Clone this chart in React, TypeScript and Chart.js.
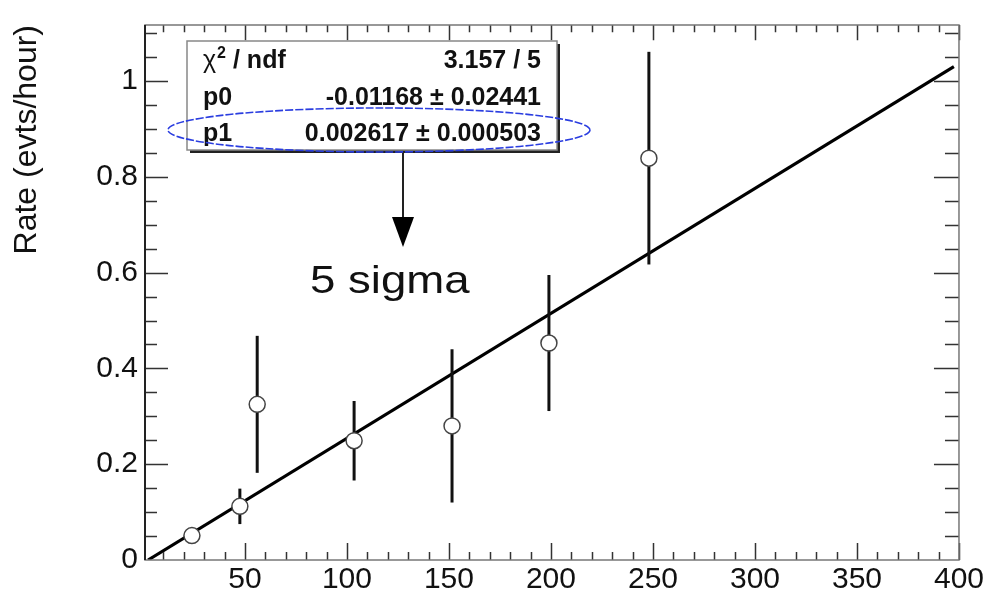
import React, { useEffect, useRef } from 'react';
import { Chart, registerables } from 'chart.js';

Chart.register(...registerables);

// ---- data ----
const pointX = [24, 47.5, 56, 103.5, 151.5, 199, 248];
const pointY = [0.051, 0.112, 0.325, 0.249, 0.28, 0.453, 0.839];
const pointErr = [0.012, 0.037, 0.143, 0.083, 0.16, 0.142, 0.222];
const fitX = [2.5, 397.5];
const fitY = [0, 1.03];
const xTickLabels = [50, 100, 150, 200, 250, 300, 350, 400];
const yTickLabels = [0, 0.2, 0.4, 0.6, 0.8, 1];
const statNames = ['p0', 'p1'];
const statValues = ['-0.01168 \u00b1 0.02441', '0.002617 \u00b1 0.000503'];
const chiValue = '3.157 / 5';
const yTitle = 'Rate (evts/hour)';
const annotationText = '5 sigma';

const FONT = '"Liberation Sans", Arial, Helvetica, sans-serif';

const errorBarPlugin = {
  id: 'errorBars',
  beforeDatasetDraw(chart: any, args: any) {
    if (args.index !== 0) return;
    const { ctx, scales, chartArea } = chart;
    const xs = scales.x;
    const ys = scales.y;
    ctx.save();
    ctx.beginPath();
    ctx.rect(chartArea.left, chartArea.top, chartArea.right - chartArea.left, chartArea.bottom - chartArea.top);
    ctx.clip();
    ctx.strokeStyle = '#111';
    ctx.lineWidth = 3;
    for (let i = 0; i < pointX.length; i++) {
      const px = xs.getPixelForValue(pointX[i]);
      ctx.beginPath();
      ctx.moveTo(px, ys.getPixelForValue(pointY[i] - pointErr[i]));
      ctx.lineTo(px, ys.getPixelForValue(pointY[i] + pointErr[i]));
      ctx.stroke();
    }
    ctx.restore();
  },
};

const framePlugin = {
  id: 'rootFrame',
  afterDatasetsDraw(chart: any) {
    const { ctx, scales, chartArea } = chart;
    const xs = scales.x;
    const ys = scales.y;
    const { left, right, top, bottom } = chartArea;
    ctx.save();
    ctx.strokeStyle = '#333';
    ctx.lineWidth = 1.5;
    const xTick = (v: number, len: number) => {
      const p = Math.round(xs.getPixelForValue(v)) + 0.5;
      ctx.beginPath();
      ctx.moveTo(p, bottom);
      ctx.lineTo(p, bottom - len);
      ctx.moveTo(p, top);
      ctx.lineTo(p, top + len * 0.9);
      ctx.stroke();
    };
    for (let i = 1; i <= 40; i++) {
      const v = i * 10;
      if (v < xs.min || v > xs.max) continue;
      xTick(v, v % 50 === 0 ? 17 : 8);
    }
    const yTick = (v: number, len: number) => {
      const p = Math.round(ys.getPixelForValue(v)) + 0.5;
      ctx.beginPath();
      ctx.moveTo(left, p);
      ctx.lineTo(left + len, p);
      ctx.moveTo(right, p);
      ctx.lineTo(right - len - 2, p);
      ctx.stroke();
    };
    for (let i = 1; i <= 22; i++) {
      const v = i * 0.05;
      if (v > ys.max) continue;
      yTick(v, i % 4 === 0 ? 23 : 12);
    }
    ctx.strokeStyle = '#777';
    ctx.lineWidth = 1.5;
    ctx.strokeRect(left, top, right - left, bottom - top);
    ctx.strokeStyle = '#222';
    ctx.lineWidth = 2;
    ctx.beginPath();
    ctx.moveTo(left, top);
    ctx.lineTo(left, bottom);
    ctx.stroke();
    ctx.restore();
  },
  afterDraw(chart: any) {
    const { ctx } = chart;
    ctx.save();
    const bx = 187, by = 41, bw = 370, bh = 109;
    ctx.fillStyle = '#222';
    ctx.fillRect(bx + 3, by + 3, bw, bh);
    ctx.fillStyle = '#fff';
    ctx.fillRect(bx, by, bw, bh);
    ctx.strokeStyle = '#888';
    ctx.lineWidth = 1.5;
    ctx.strokeRect(bx, by, bw, bh);

    ctx.fillStyle = '#111';
    ctx.textBaseline = 'alphabetic';
    ctx.textAlign = 'left';
    ctx.font = `25px ${FONT}`;
    ctx.fillText('\u03c7', 203, 68);
    let cx = 203 + ctx.measureText('\u03c7').width + 1;
    ctx.font = `bold 16px ${FONT}`;
    ctx.fillText('2', cx, 58);
    cx += ctx.measureText('2').width;
    ctx.font = `bold 25px ${FONT}`;
    ctx.fillText(' / ndf', cx, 68);
    ctx.textAlign = 'right';
    ctx.fillText(chiValue, 541, 68);
    const rows = [105, 141];
    statNames.forEach((n, i) => {
      ctx.textAlign = 'left';
      ctx.fillText(n, 203, rows[i]);
      ctx.textAlign = 'right';
      ctx.fillText(statValues[i], 541, rows[i]);
    });

    ctx.strokeStyle = '#2a3de0';
    ctx.lineWidth = 1.6;
    ctx.setLineDash([8, 2]);
    ctx.beginPath();
    ctx.ellipse(379, 130, 211, 22, 0, 0, Math.PI * 2);
    ctx.stroke();
    ctx.setLineDash([]);

    ctx.strokeStyle = '#222';
    ctx.lineWidth = 2;
    ctx.beginPath();
    ctx.moveTo(403, 153);
    ctx.lineTo(403, 220);
    ctx.stroke();
    ctx.fillStyle = '#000';
    ctx.beginPath();
    ctx.moveTo(392, 217);
    ctx.lineTo(414, 217);
    ctx.lineTo(403, 247);
    ctx.closePath();
    ctx.fill();

    ctx.fillStyle = '#111';
    ctx.textAlign = 'left';
    ctx.font = `38px ${FONT}`;
    ctx.translate(310, 293);
    ctx.scale(1.2, 1);
    ctx.fillText(annotationText, 0, 0);
    ctx.restore();
  },
};

export default function App() {
  const canvasRef = useRef<HTMLCanvasElement | null>(null);

  useEffect(() => {
    const canvas = canvasRef.current;
    if (!canvas) return;
    const chart = new Chart(canvas, {
      type: 'scatter',
      data: {
        datasets: [
          {
            label: 'data',
            data: pointX.map((x, i) => ({ x, y: pointY[i] })),
            pointStyle: 'circle',
            pointRadius: 8,
            pointHoverRadius: 8,
            backgroundColor: '#fff',
            borderColor: '#444',
            borderWidth: 1.5,
            showLine: false,
          },
          {
            label: 'fit',
            data: fitX.map((x, i) => ({ x, y: fitY[i] })),
            showLine: true,
            borderColor: '#000',
            borderWidth: 3.2,
            pointRadius: 0,
            pointHoverRadius: 0,
            fill: false,
          },
        ],
      },
      options: {
        responsive: false,
        animation: false,
        events: [],
        layout: { padding: { top: 13, right: 26, bottom: 0, left: 0 } },
        plugins: {
          legend: { display: false },
          tooltip: { enabled: false },
          title: { display: false },
        },
        scales: {
          x: {
            type: 'linear',
            position: 'bottom',
            min: 1,
            max: 400,
            grid: { display: false, drawTicks: false },
            border: { display: false },
            afterBuildTicks: (scale: any) => {
              scale.ticks = xTickLabels.map((v) => ({ value: v }));
            },
            afterFit: (scale: any) => {
              scale.height = 30;
            },
            ticks: {
              autoSkip: false,
              maxRotation: 0,
              padding: 2,
              color: '#111',
              font: { family: FONT, size: 30 },
              callback: (v: any) => String(v),
            },
          },
          y: {
            type: 'linear',
            position: 'left',
            min: 0,
            max: 1.117,
            grid: { display: false, drawTicks: false },
            border: { display: false },
            afterBuildTicks: (scale: any) => {
              scale.ticks = yTickLabels.map((v) => ({ value: v }));
            },
            afterFit: (scale: any) => {
              scale.width = 145;
            },
            ticks: {
              autoSkip: false,
              padding: 7,
              color: '#111',
              font: { family: FONT, size: 30 },
              callback: (v: any) => String(v),
            },
            title: {
              display: true,
              text: yTitle,
              align: 'end',
              color: '#111',
              font: { family: FONT, size: 32 },
              padding: { top: 8, bottom: 0 },
            },
          },
        },
      },
      plugins: [errorBarPlugin, framePlugin],
    } as any);
    return () => chart.destroy();
  }, []);

  return (
    <div style={{ position: 'fixed', left: 0, top: 0, width: 986, height: 590, background: '#fff' }}>
      <canvas ref={canvasRef} width={986} height={590} style={{ display: 'block' }} />
    </div>
  );
}
